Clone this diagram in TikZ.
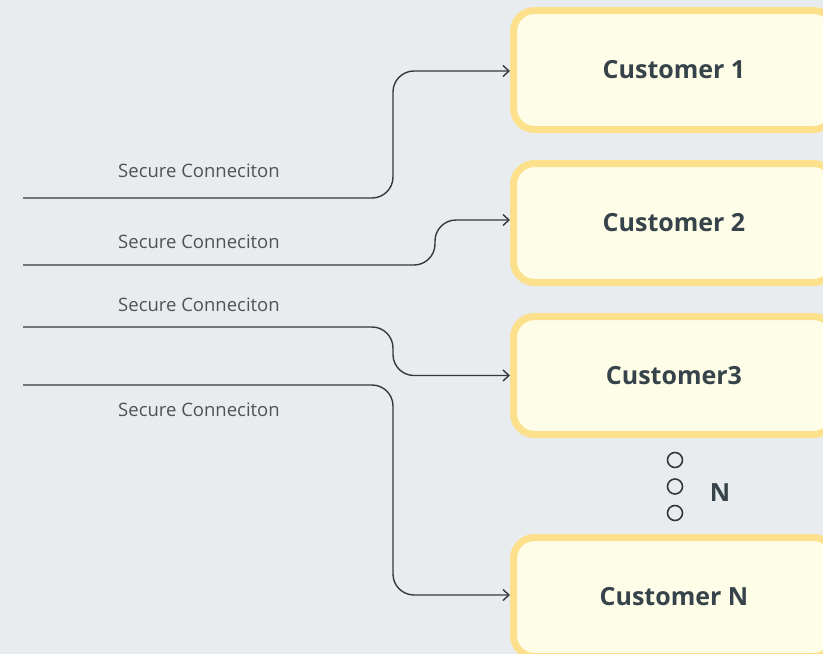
\documentclass[tikz,border=0pt]{standalone}
\usepackage{fontspec}
\setmainfont{Open Sans}
\usetikzlibrary{arrows.meta}
\definecolor{bgcol}{HTML}{E8ECEF}
\definecolor{boxfill}{HTML}{FEFDE7}
\definecolor{boxedge}{HTML}{FDE08C}
\definecolor{linecol}{HTML}{33393E}
\definecolor{labelcol}{HTML}{4D5358}
\definecolor{titlecol}{HTML}{37434A}
\tikzset{
  x=1pt, y=-1pt,
  custbox/.style={draw=boxedge, fill=boxfill, line width=7pt, rounded corners=21pt,
    minimum width=321pt, inner sep=0pt, text=titlecol,
    font=\fontsize{25}{28}\selectfont\bfseries},
  link/.style={draw=linecol, line width=1.4pt, rounded corners=21pt,
    -{Straight Barb[length=6pt,width=11pt,line width=1.4pt]}},
  linklabel/.style={text=labelcol, font=\fontsize{18.5}{21}\selectfont, inner sep=0pt},
  dot/.style={circle, draw=linecol, line width=1.6pt, minimum size=15pt, inner sep=0pt}
}
\begin{document}
\begin{tikzpicture}
  \useasboundingbox (0,0) rectangle (823,654);
  \fill[bgcol] (0,0) rectangle (823,654);
  \clip (0,0) rectangle (823,654);

  % customer boxes
  \node[custbox, minimum height=119pt] (c1) at (674,70) {Customer 1};
  \node[custbox, minimum height=119pt] (c2) at (674,223) {Customer 2};
  \node[custbox, minimum height=118pt] (c3) at (674,375.5) {Customer3};
  \node[custbox, minimum height=119pt] (cn) at (674,597) {Customer N};

  % ellipsis between Customer3 and Customer N
  \node[dot] (d1) at (675,460) {};
  \node[dot] (d2) at (675,486.5) {};
  \node[dot] (d3) at (675,513) {};
  \node[text=titlecol, font=\fontsize{25}{28}\selectfont\bfseries, inner sep=0pt] (nlab) at (720,493) {N};

  % free ends of the connections
  \coordinate (s1) at (23,198);
  \coordinate (s2) at (23,265);
  \coordinate (s3) at (23,327);
  \coordinate (s4) at (23,385);

  % connections
  \draw[link] (s1) -- (393,198) |- ([yshift=-1pt]c1.west);
  \draw[link] (s2) -- (435,265) |- ([yshift=3pt]c2.west);
  \draw[link] (s3) -- (393,327) |- (c3.west);
  \draw[link] (s4) -- (393,385) |- ([yshift=2pt]cn.west);

  % connection labels
  \node[linklabel] (l1) at (199,171) {Secure Conneciton};
  \node[linklabel] (l2) at (199,242) {Secure Conneciton};
  \node[linklabel] (l3) at (199,305) {Secure Conneciton};
  \node[linklabel] (l4) at (199,410) {Secure Conneciton};
\end{tikzpicture}
\end{document}
